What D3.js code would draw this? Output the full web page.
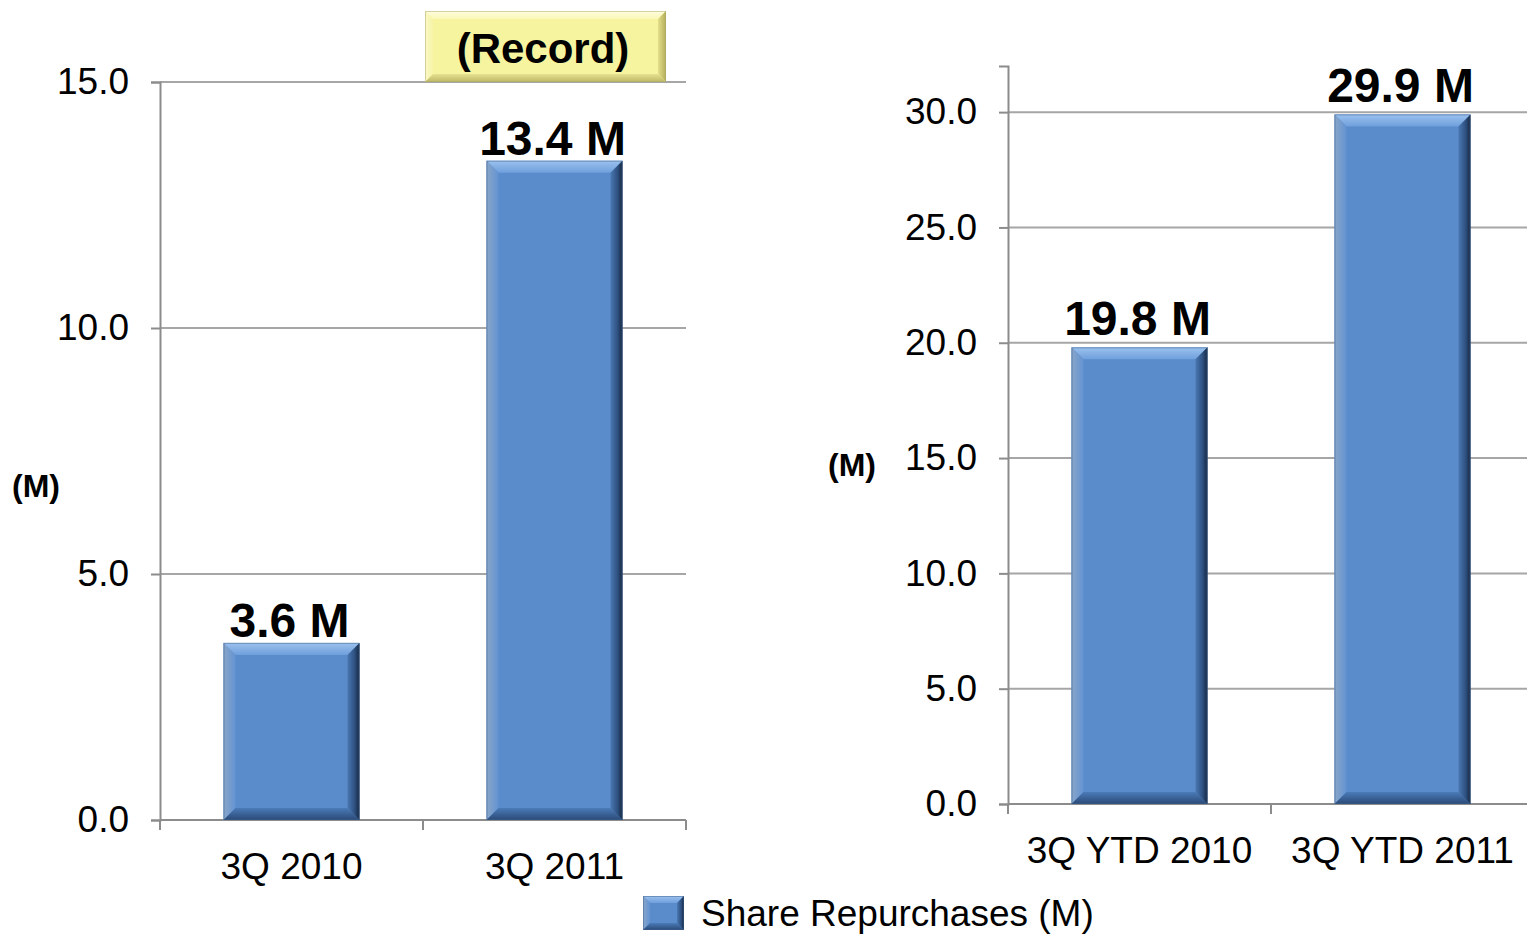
<!DOCTYPE html>
<html>
<head>
<meta charset="utf-8">
<script src="https://cdn.jsdelivr.net/npm/d3@7"></script>
<style>
  html, body { margin: 0; padding: 0; background: #ffffff; }
  svg { display: block; font-family: "Liberation Sans", Arial, sans-serif; }
</style>
</head>
<body>
<svg id="chart" width="1527" height="934"></svg>
<script>
// Quarterly and year-to-date share repurchases, millions of shares
const quarterCategories = ["3Q 2010", "3Q 2011"];
const quarterValues = [3.6, 13.4];
const quarterTicks = [0, 5, 10, 15];

const ytdCategories = ["3Q YTD 2010", "3Q YTD 2011"];
const ytdValues = [19.8, 29.9];
const ytdTicks = [0, 5, 10, 15, 20, 25, 30];

const unitLabel = "(M)";
const recordLabel = "(Record)";
const legendLabel = "Share Repurchases (M)";

const svg = d3.select("#chart");
const defs = svg.append("defs");

// Gradients for the beveled bar faces
function linGrad(id, x2, y2, stops) {
  const g = defs.append("linearGradient").attr("id", id)
    .attr("x1", 0).attr("y1", 0).attr("x2", x2).attr("y2", y2);
  stops.forEach(s => g.append("stop").attr("offset", s[0]).attr("stop-color", s[1]));
}
linGrad("blueTop", 0, 1, [[0, "#9cc2ee"], [1, "#6f9fdc"]]);
linGrad("blueRight", 1, 0, [[0, "#4a78b2"], [0.6, "#2e5080"], [1, "#16263c"]]);
linGrad("blueLeft", 1, 0, [[0, "#8aa6c8"], [1, "#6393d2"]]);
linGrad("blueBottom", 0, 1, [[0, "#4b7bb8"], [1, "#2a4a76"]]);
linGrad("yelTop", 0, 1, [[0, "#fefde0"], [1, "#fbf8b6"]]);
linGrad("yelRight", 1, 0, [[0, "#e4df8c"], [1, "#b2ad58"]]);
linGrad("yelLeft", 1, 0, [[0, "#fbf9c8"], [1, "#f7f3a6"]]);
linGrad("yelBottom", 0, 1, [[0, "#e6e190"], [1, "#bdb864"]]);

const blue = { base: "#5a8bcb", top: "url(#blueTop)", left: "url(#blueLeft)", right: "url(#blueRight)", bottom: "url(#blueBottom)", stroke: "#3d5f8c" };
const yellow = { base: "#f7f49f", top: "url(#yelTop)", left: "url(#yelLeft)", right: "url(#yelRight)", bottom: "url(#yelBottom)", stroke: "#a9a66a" };

// Draws a rectangle with beveled (pillow) edges
function bevelRect(g, x0, y0, x1, y1, b, pal) {
  const poly = (pts, fill) => g.append("polygon")
    .attr("points", pts.map(p => p.join(",")).join(" "))
    .attr("fill", fill);
  g.append("rect").attr("x", x0).attr("y", y0)
    .attr("width", x1 - x0).attr("height", y1 - y0).attr("fill", pal.base);
  poly([[x0, y0], [x1, y0], [x1 - b, y0 + b], [x0 + b, y0 + b]], pal.top);
  poly([[x0, y0], [x0 + b, y0 + b], [x0 + b, y1 - b], [x0, y1]], pal.left);
  poly([[x0, y1], [x1, y1], [x1 - b, y1 - b], [x0 + b, y1 - b]], pal.bottom);
  poly([[x1, y0], [x1, y1], [x1 - b, y1 - b], [x1 - b, y0 + b]], pal.right);
  g.append("rect").attr("x", x0 + 0.5).attr("y", y0 + 0.5)
    .attr("width", x1 - x0 - 1).attr("height", y1 - y0 - 1)
    .attr("fill", "none").attr("stroke", pal.stroke).attr("stroke-opacity", 0.5).attr("stroke-width", 1);
}

function panel(opts) {
  const { categories, values, ticks, left, right, top, bottom, yMax, labelGap, unitX, unitY } = opts;
  const g = svg.append("g");
  const x = d3.scaleBand().domain(categories).range([left, right]).padding(0);
  const y = d3.scaleLinear().domain([0, yMax]).range([bottom, top]);

  // Horizontal grid lines
  g.append("g").selectAll("line").data(ticks.filter(t => t > 0)).join("line")
    .attr("x1", left).attr("x2", right)
    .attr("y1", d => y(d)).attr("y2", d => y(d))
    .attr("stroke", "#a6a6a6").attr("stroke-width", 2);

  // Y axis
  const yAxis = g.append("g").attr("transform", `translate(${left},0)`)
    .call(d3.axisLeft(y).tickValues(ticks).tickFormat(d3.format(".1f")).tickSize(9).tickPadding(22));
  yAxis.select(".domain").attr("stroke", "#8c8c8c").attr("stroke-width", 2);
  yAxis.selectAll(".tick line").attr("stroke", "#8c8c8c").attr("stroke-width", 2);
  yAxis.selectAll(".tick text").attr("font-size", 37).attr("fill", "#000")
    .attr("font-family", "'Liberation Sans', Arial, sans-serif");

  // X axis with ticks between categories
  const xg = g.append("g");
  xg.append("line").attr("x1", left).attr("x2", right).attr("y1", bottom).attr("y2", bottom)
    .attr("stroke", "#8c8c8c").attr("stroke-width", 2);
  const bounds = categories.map(c => x(c)).concat([x(categories[categories.length - 1]) + x.bandwidth()]);
  xg.selectAll("line.tk").data(bounds).join("line").attr("class", "tk")
    .attr("x1", d => d).attr("x2", d => d).attr("y1", bottom).attr("y2", bottom + 10)
    .attr("stroke", "#8c8c8c").attr("stroke-width", 2);
  xg.selectAll("text").data(categories).join("text")
    .attr("x", d => x(d) + x.bandwidth() / 2).attr("y", bottom + 59)
    .attr("text-anchor", "middle").attr("font-size", 37).attr("fill", "#000")
    .text(d => d);

  // Bars
  const bw = x.bandwidth() * 0.517;
  categories.forEach((c, i) => {
    const cx = x(c) + x.bandwidth() / 2;
    const bg = g.append("g");
    bevelRect(bg, cx - bw / 2, y(values[i]), cx + bw / 2, y(0), 12, blue);
    g.append("text").attr("x", cx - 2).attr("y", y(values[i]) - labelGap)
      .attr("text-anchor", "middle").attr("font-size", 48).attr("font-weight", "bold")
      .attr("fill", "#000").text(values[i].toFixed(1) + " M");
  });

  // Unit label
  g.append("text").attr("x", unitX).attr("y", unitY).attr("text-anchor", "middle")
    .attr("dominant-baseline", "central").attr("font-size", 32).attr("font-weight", "bold")
    .attr("fill", "#000").text(unitLabel);
  return { x, y };
}

panel({ categories: quarterCategories, values: quarterValues, ticks: quarterTicks,
  left: 160, right: 686, top: 82, bottom: 820, yMax: 15, labelGap: 6, unitX: 36, unitY: 486 });

panel({ categories: ytdCategories, values: ytdValues, ticks: ytdTicks,
  left: 1008, right: 1534, top: 66, bottom: 804, yMax: 32, labelGap: 12, unitX: 852, unitY: 465 });

// "(Record)" callout box
const rec = svg.append("g");
bevelRect(rec, 425, 11, 666, 82, 8, yellow);
rec.append("text").attr("x", 543).attr("y", 63).attr("text-anchor", "middle")
  .attr("font-size", 42).attr("font-weight", "bold").attr("fill", "#000").text(recordLabel);

// Legend
const leg = svg.append("g");
bevelRect(leg, 643, 896, 684, 930, 7, blue);
leg.append("text").attr("x", 701).attr("y", 926).attr("font-size", 37).attr("fill", "#000").text(legendLabel);
</script>
</body>
</html>
